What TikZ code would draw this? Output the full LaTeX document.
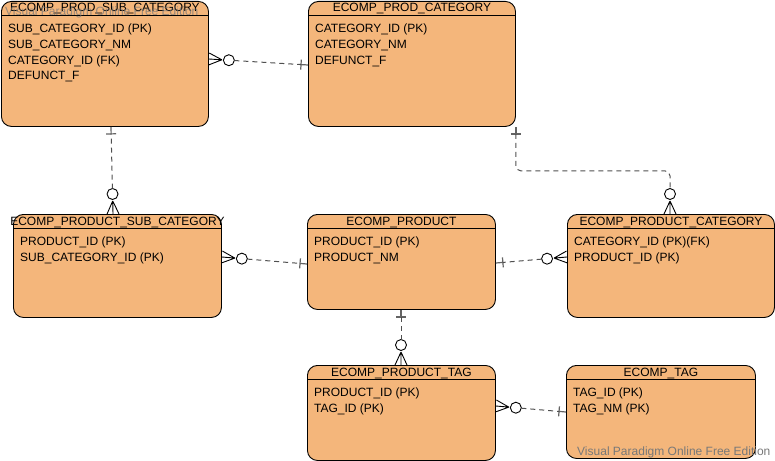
\documentclass[tikz,border=0pt]{standalone}
\usepackage{fontspec}
\setmainfont{Liberation Sans}
\usetikzlibrary{calc}

\definecolor{entityfill}{RGB}{244,182,123}
\definecolor{linkgray}{RGB}{80,80,80}
\definecolor{bargray}{RGB}{100,100,100}
\definecolor{markgray}{RGB}{120,120,120}

\tikzset{
  entity/.style={draw=black, fill=entityfill, line width=0.9pt, rounded corners=10pt,
                 anchor=north west, inner sep=0pt},
  entitytitle/.style={anchor=base, inner sep=0pt, font=\fontsize{12}{14}\selectfont},
  field/.style={anchor=base west, inner sep=0pt, font=\fontsize{12}{14}\selectfont},
  rel/.style={draw=linkgray, line width=1pt, dash pattern=on 5pt off 4pt},
  barend/.style={draw=bargray, line width=1.2pt},
  crow/.style={draw=black, line width=0.9pt},
  watermark/.style={anchor=base west, inner sep=0pt, text=markgray,
                    font=\fontsize{12}{14}\selectfont}
}

% entity box: name, x, y, width, height, title, list of fields
\newcommand\erentity[7]{%
  \node[entity, minimum width=#4pt, minimum height=#5pt] (#1) at (#2,#3) {};
  \draw[line width=0.9pt] ($(#1.north west)+(0,14)$) -- ($(#1.north east)+(0,14)$);
  \node[entitytitle] (#1-t) at ($(#1.north)+(0,11)$) {#6};
  \foreach \f [count=\i] in {#7} {
    \node[field] (#1-f\i) at ($(#1.north west)+(7,{16+15.7*\i})$) {\f};
  }
}

% zero-or-many end: crow's foot and circle at #1, pointing toward #2
\newcommand\ermany[2]{%
  \draw[crow] ($(#1)!13pt!(#2)$) -- (#1)
              ($(#1)!13pt!(#2)$) -- ($(#1)!6pt!90:(#2)$)
              ($(#1)!13pt!(#2)$) -- ($(#1)!6pt!-90:(#2)$);
  \draw[crow] ($(#1)!20pt!(#2)$) circle (5.5pt);
}
% exactly-one end: short stem with a bar at #1, pointing toward #2
\newcommand\erone[2]{%
  \draw[barend] ($(#1)!7pt!(#2)$) -- (#1)
                ($(#1)!7pt!(#2)!5pt!90:(#1)$) -- ($(#1)!7pt!(#2)!5pt!-90:(#1)$);
}
% straight relationship: many side #1, one side #2
\newcommand\erlink[2]{%
  \ermany{#1}{#2}
  \erone{#2}{#1}
  \draw[rel] ($(#1)!25.5pt!(#2)$) -- ($(#2)!7pt!(#1)$);
}

\begin{document}
\begin{tikzpicture}[x=1pt, y=-1pt]
  \useasboundingbox (0,0) rectangle (775,460);

  % tables
  \erentity{psc}{1}{1}{207}{125}{ECOMP\_PROD\_SUB\_CATEGORY}
    {SUB\_CATEGORY\_ID (PK), SUB\_CATEGORY\_NM, CATEGORY\_ID (FK), DEFUNCT\_F}
  \erentity{pc}{308}{1}{207}{125}{ECOMP\_PROD\_CATEGORY}
    {CATEGORY\_ID (PK), CATEGORY\_NM, DEFUNCT\_F}
  \erentity{pdsc}{13}{214}{208}{103}{ECOMP\_PRODUCT\_SUB\_CATEGORY}
    {PRODUCT\_ID (PK), SUB\_CATEGORY\_ID (PK)}
  \erentity{prod}{307}{214}{188}{95}{ECOMP\_PRODUCT}
    {PRODUCT\_ID (PK), PRODUCT\_NM}
  \erentity{pdc}{567}{214}{207}{103}{ECOMP\_PRODUCT\_CATEGORY}
    {CATEGORY\_ID (PK)(FK), PRODUCT\_ID (PK)}
  \erentity{ptag}{307}{365}{188}{95}{ECOMP\_PRODUCT\_TAG}
    {PRODUCT\_ID (PK), TAG\_ID (PK)}
  \erentity{tag}{566}{365}{189}{93}{ECOMP\_TAG}
    {TAG\_ID (PK), TAG\_NM (PK)}

  % watermarks
  \node[watermark, text opacity=0.75] (wm1) at (5,16) {Visual Paradigm Online Free Edition};
  \node[watermark] (wm2) at (577,455) {Visual Paradigm Online Free Edition};

  % attachment points
  \coordinate (l1a) at ($(psc.north east)+(0,58)$);
  \coordinate (l1b) at ($(pc.north west)+(0,64)$);
  \coordinate (l2a) at ($(pdsc.north west)+(100,0)$);
  \coordinate (l2b) at ($(psc.south west)+(110,0)$);
  \coordinate (l3a) at ($(pdc.north west)+(103,0)$);
  \coordinate (l3up) at ($(l3a)+(0,-50)$);
  \coordinate (l3b) at (pc.south east);
  \coordinate (l3turn) at ($(l3b)+(0,44)$);
  \coordinate (l4a) at ($(pdsc.north east)+(0,43)$);
  \coordinate (l4b) at ($(prod.north west)+(0,50)$);
  \coordinate (l5a) at ($(pdc.north west)+(0,43)$);
  \coordinate (l5b) at ($(prod.north east)+(0,49)$);
  \coordinate (l6a) at ($(ptag.north west)+(94,0)$);
  \coordinate (l6b) at ($(prod.south west)+(94,0)$);
  \coordinate (l7a) at ($(ptag.north east)+(0,41)$);
  \coordinate (l7b) at ($(tag.north west)+(0,47)$);

  % relationships
  \erlink{l1a}{l1b}
  \erlink{l2a}{l2b}
  \erlink{l4a}{l4b}
  \erlink{l5a}{l5b}
  \erlink{l6a}{l6b}
  \erlink{l7a}{l7b}

  % routed relationship between ECOMP_PROD_CATEGORY and ECOMP_PRODUCT_CATEGORY
  \ermany{l3a}{l3up}
  \erone{l3b}{l3turn}
  \draw[rel, rounded corners=5pt] ($(l3b)!7pt!(l3turn)$) -- (l3turn) -| ($(l3a)!25.5pt!(l3up)$);
\end{tikzpicture}
\end{document}
